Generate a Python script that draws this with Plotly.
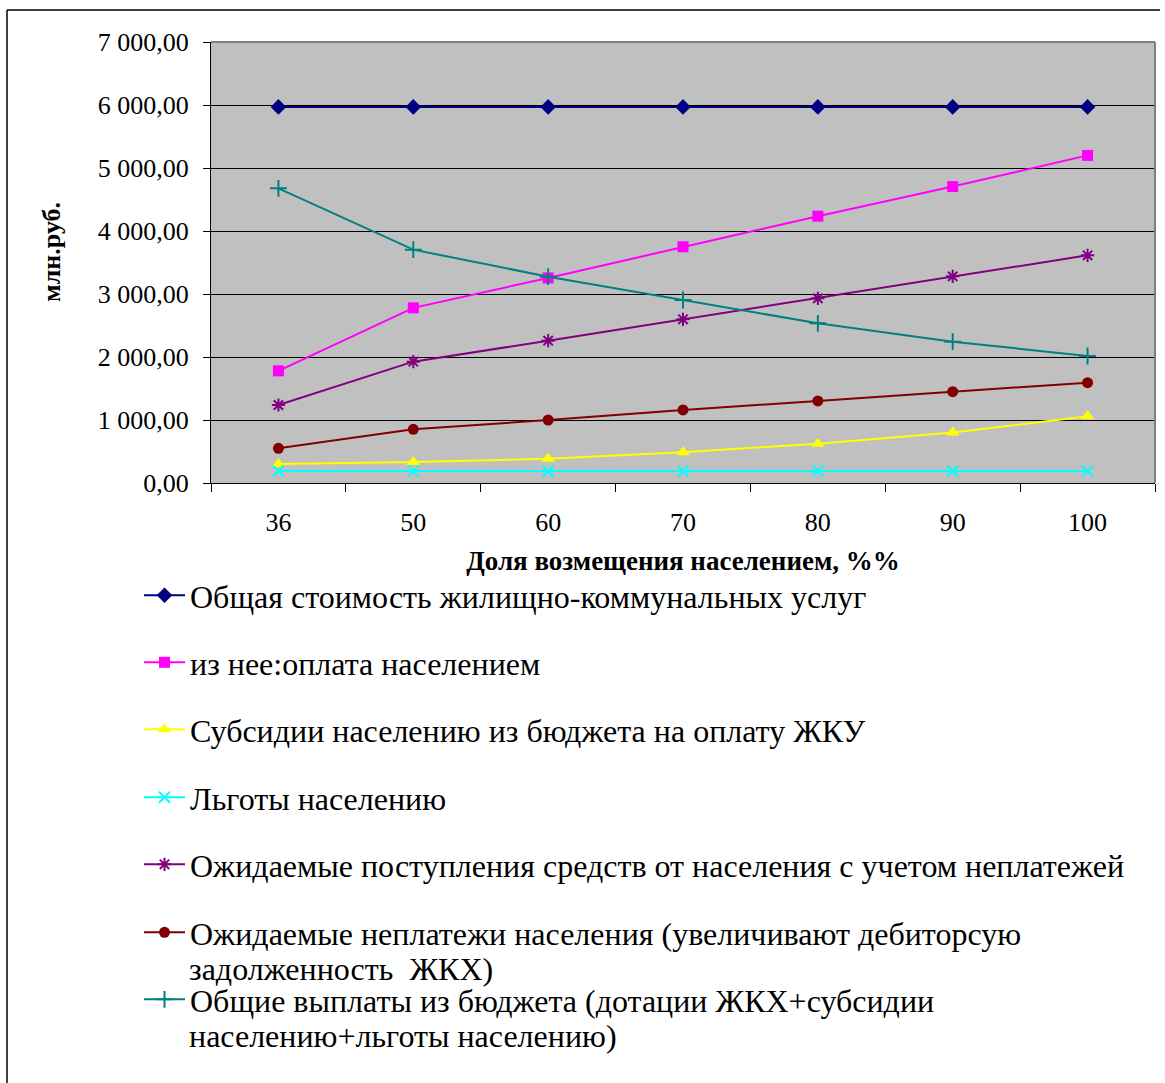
import plotly.graph_objects as go

# Share of cost recovered by the population, %
categories = ["36", "50", "60", "70", "80", "90", "100"]

# Values, mln rub.
total_cost = [5970, 5970, 5970, 5970, 5970, 5970, 5970]
paid_by_population = [1780, 2780, 3255, 3750, 4235, 4705, 5200]
subsidies = [300, 335, 385, 487, 625, 800, 1058]
benefits = [190, 190, 190, 190, 190, 190, 190]
expected_income = [1238, 1926, 2259, 2598, 2931, 3280, 3614]
expected_nonpayments = [550, 852, 1000, 1159, 1302, 1450, 1593]
budget_payments = [4677, 3704, 3275, 2905, 2535, 2243, 2016]

# legend labels; long ones continue on a second line
series_names = [
    "Общая стоимость жилищно-коммунальных услуг",
    "из нее:оплата населением",
    "Субсидии населению из бюджета на оплату ЖКУ",
    "Льготы населению",
    "Ожидаемые поступления средств от населения с учетом неплатежей",
    "Ожидаемые неплатежи населения (увеличивают дебиторсую",
    "Общие выплаты из бюджета (дотации ЖКХ+субсидии",
]
series_name_continuations = [
    None, None, None, None, None,
    "задолженность  ЖКХ)",
    "населению+льготы населению)",
]

W, H = 1165, 1083
ML, MR, MT, MB = 211, 10, 42, 600
PW, PH = W - ML - MR, H - MT - MB
FONT = "Liberation Serif"
LEGEND_FONT_SIZE = 32
LEGEND_ITEM_WIDTH = 41


def px_to_paper_x(px):
    return (px - ML) / PW


def px_to_paper_y(py):
    return (H - MB - py) / PH


styles = [
    dict(color="#000080", symbol="diamond", size=12),
    dict(color="#FF00FF", symbol="square", size=11),
    dict(color="#FFFF00", symbol="triangle-up", size=12),
    dict(color="#00FFFF", symbol="x-thin", size=11),
    dict(color="#800080", symbol="asterisk", size=11),
    dict(color="#800000", symbol="circle", size=11),
    dict(color="#008080", symbol="cross-thin", size=12),
]
values = [total_cost, paid_by_population, subsidies, benefits,
          expected_income, expected_nonpayments, budget_payments]

# vertical pixel position of each legend row (first line)
legend_rows = [598, 665, 732, 800, 867, 935, 1002]
LEGEND_TEXT_X = 190
LINE_GAP = 34

fig = go.Figure()
layout_legends = {}
for i, (name, vals, st) in enumerate(zip(series_names, values, styles)):
    key = "legend" if i == 0 else f"legend{i + 1}"
    open_sym = st["symbol"] in ("x-thin", "asterisk", "cross-thin")
    fig.add_trace(go.Scatter(
        x=categories, y=vals, name=name, mode="lines+markers",
        legend=key,
        line=dict(color=st["color"], width=2),
        marker=dict(symbol=st["symbol"], size=st["size"], color=st["color"],
                    line=dict(color=st["color"], width=2 if open_sym else 0)),
    ))
    layout_legends[key] = dict(
        x=px_to_paper_x(LEGEND_TEXT_X - LEGEND_ITEM_WIDTH - 10),
        y=px_to_paper_y(legend_rows[i] - 30),
        xref="paper", yref="paper",
        xanchor="left", yanchor="top",
        bgcolor="rgba(0,0,0,0)", borderwidth=0,
        valign="top", itemwidth=LEGEND_ITEM_WIDTH,
        font=dict(family=FONT, size=LEGEND_FONT_SIZE, color="black"),
    )

fig.update_layout(
    width=W, height=H,
    margin=dict(l=ML, r=MR, t=MT, b=MB, autoexpand=False),
    paper_bgcolor="white", plot_bgcolor="#C0C0C0",
    separators=", ",
    showlegend=True,
    font=dict(family=FONT, color="black"),
    **layout_legends,
)

# second lines of the two long legend labels
for row, text in zip(legend_rows, series_name_continuations):
    if text is None:
        continue
    fig.add_annotation(
        text=text, xref="paper", yref="paper",
        x=px_to_paper_x(LEGEND_TEXT_X - 3), y=px_to_paper_y(row + LINE_GAP),
        xanchor="left", yanchor="middle", showarrow=False,
        font=dict(family=FONT, size=LEGEND_FONT_SIZE, color="black"),
    )

# vertical axis caption
fig.add_annotation(
    text="<b>млн.руб.</b>", xref="paper", yref="paper",
    x=px_to_paper_x(51), y=px_to_paper_y(252),
    xanchor="center", yanchor="middle", textangle=-90, showarrow=False,
    font=dict(family=FONT, size=26, color="black"),
)

fig.update_xaxes(
    type="category", range=[-0.5, 6.5], showgrid=False,
    showline=True, linecolor="black", linewidth=1,
    ticks="outside", ticklen=8, tickcolor="black", tickson="boundaries",
    tickfont=dict(family=FONT, size=26, color="black"),
    tickangle=0, ticklabelstandoff=16,
    title=dict(text="<b>Доля возмещения населением, %%</b>",
               font=dict(family=FONT, size=27, color="black"), standoff=14),
    automargin=False,
)
fig.update_yaxes(
    range=[0, 7000], dtick=1000, tickformat=",.2f",
    showgrid=True, gridcolor="black", gridwidth=1,
    showline=True, linecolor="black", linewidth=1,
    ticks="outside", ticklen=7, tickcolor="black",
    ticklabelstandoff=9,
    tickfont=dict(family=FONT, size=26, color="black"),
    zeroline=False, automargin=False,
)

# plot-area border on the top and right sides
fig.add_shape(type="line", xref="paper", yref="paper", x0=0, x1=1, y0=1, y1=1,
              line=dict(color="#808080", width=2))
fig.add_shape(type="line", xref="paper", yref="paper", x0=1, x1=1, y0=0, y1=1,
              line=dict(color="#808080", width=2))

# outer chart frame (top and left edges)
fig.add_shape(type="line", xref="paper", yref="paper",
              x0=px_to_paper_x(7), x1=px_to_paper_x(1160),
              y0=px_to_paper_y(10), y1=px_to_paper_y(10),
              line=dict(color="black", width=1.5))
fig.add_shape(type="line", xref="paper", yref="paper",
              x0=px_to_paper_x(7), x1=px_to_paper_x(7),
              y0=px_to_paper_y(10), y1=px_to_paper_y(H),
              line=dict(color="black", width=1.5))

fig.write_html("out.html")
